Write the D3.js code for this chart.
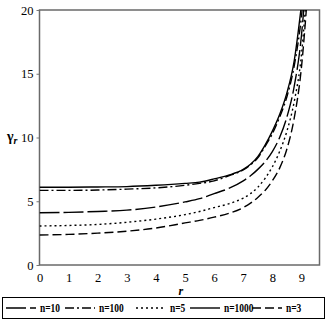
<!DOCTYPE html>
<html>
<head>
<meta charset="utf-8">
<script src="https://cdn.jsdelivr.net/npm/d3@7"></script>
<style>
  body { margin: 0; background: #fff; }
</style>
</head>
<body>
<div id="chart"></div>
<script>
// values
var xTicks = [0, 1, 2, 3, 4, 5, 6, 7, 8, 9];
var yTicks = [0, 5, 10, 15, 20];

var rN1000 = [0, 1, 2, 3, 4, 5, 5.5, 6, 6.5, 7, 7.25, 7.5, 7.75, 8, 8.25, 8.5, 8.75, 9];
var gN1000 = [6.1, 6.1, 6.12, 6.15, 6.25, 6.4, 6.5, 6.75, 7.05, 7.5, 7.9, 8.5, 9.4, 10.5, 11.8, 13.5, 16.0, 20.4];

var rN100 = [0, 1, 2, 3, 4, 5, 5.5, 6, 6.5, 7, 7.25, 7.5, 7.75, 8, 8.25, 8.5, 8.75, 9, 9.05];
var gN100 = [5.85, 5.85, 5.88, 5.95, 6.05, 6.25, 6.4, 6.6, 7.0, 7.45, 7.85, 8.4, 9.3, 10.3, 11.6, 13.2, 15.6, 19.5, 20.6];

var rN10 = [0, 1, 2, 3, 4, 5, 5.5, 6, 6.5, 7, 7.25, 7.5, 7.75, 8, 8.25, 8.5, 8.75, 9, 9.1];
var gN10 = [4.1, 4.13, 4.2, 4.3, 4.55, 4.95, 5.2, 5.6, 6.0, 6.6, 7.0, 7.5, 8.1, 8.9, 10.0, 11.6, 14.0, 18.0, 20.6];

var rN5 = [0, 1, 2, 3, 4, 5, 5.5, 6, 6.5, 7, 7.25, 7.5, 7.75, 8, 8.25, 8.5, 8.75, 9, 9.15];
var gN5 = [3.06, 3.1, 3.18, 3.35, 3.6, 3.95, 4.2, 4.5, 4.8, 5.25, 5.6, 6.1, 6.8, 7.7, 8.9, 10.5, 12.8, 16.5, 20.6];

var rN3 = [0, 1, 2, 3, 4, 5, 5.5, 6, 6.5, 7, 7.25, 7.5, 7.75, 8, 8.25, 8.5, 8.75, 9, 9.2];
var gN3 = [2.35, 2.4, 2.5, 2.65, 2.9, 3.3, 3.5, 3.75, 4.05, 4.5, 4.85, 5.3, 5.85, 6.6, 7.6, 9.1, 11.5, 15.5, 21];

var series = [
  {name: "n=10",   r: rN10,   g: gN10,   dash: "20,4"},
  {name: "n=100",  r: rN100,  g: gN100,  dash: "9,3,2,3"},
  {name: "n=5",    r: rN5,    g: gN5,    dash: "2,3"},
  {name: "n=1000", r: rN1000, g: gN1000, dash: null},
  {name: "n=3",    r: rN3,    g: gN3,    dash: "9,4"}
];

var serif = "'Liberation Serif', 'Times New Roman', serif";
var width = 327, height = 325;
var margin = {top: 10, right: 7.5, bottom: 60, left: 39.5};

var svg = d3.select("#chart").append("svg")
  .attr("width", width)
  .attr("height", height)
  .attr("font-family", serif);

var x = d3.scaleLinear().domain([0, 9.62]).range([margin.left, width - margin.right]);
var y = d3.scaleLinear().domain([0, 20]).range([height - margin.bottom, margin.top]);

svg.append("clipPath").attr("id", "plotclip")
  .append("rect")
  .attr("x", x(0)).attr("y", y(20))
  .attr("width", x(9.62) - x(0)).attr("height", y(0) - y(20));

// axes
var yAxis = svg.append("g")
  .attr("transform", "translate(" + x(0) + ",0)")
  .call(d3.axisLeft(y).tickValues(yTicks).tickSize(3).tickPadding(3));
var xAxis = svg.append("g")
  .attr("transform", "translate(0," + y(0) + ")")
  .call(d3.axisBottom(x).tickValues(xTicks).tickSize(0).tickPadding(8));

[xAxis, yAxis].forEach(function(a) {
  a.attr("font-family", serif).attr("font-size", 12.5);
  a.select(".domain").remove();
  a.selectAll("line").attr("stroke", "#777");
  a.selectAll("text").style("font-family", serif).attr("fill", "#000");
});

// frame
svg.append("rect")
  .attr("x", x(0)).attr("y", y(20))
  .attr("width", x(9.62) - x(0)).attr("height", y(0) - y(20))
  .attr("fill", "none")
  .attr("stroke", "#6a6a6a")
  .attr("stroke-width", 1.5);

var line = d3.line()
  .x(function(d) { return x(d[0]); })
  .y(function(d) { return y(d[1]); })
  .curve(d3.curveMonotoneX);

svg.append("g").attr("clip-path", "url(#plotclip)")
  .selectAll("path")
  .data(series)
  .enter()
  .append("path")
  .attr("d", function(s) { return line(d3.zip(s.r, s.g)); })
  .attr("fill", "none")
  .attr("stroke", "#000")
  .attr("stroke-width", 1.4)
  .attr("stroke-dasharray", function(s) { return s.dash; });

// axis titles
var yLab = svg.append("text")
  .attr("x", 7).attr("y", y(10) + 3)
  .style("font-family", serif)
  .style("font-size", "14px").style("font-weight", "bold");
yLab.append("tspan").text("γ");
yLab.append("tspan").attr("dy", 3).style("font-size", "10px").style("font-style", "italic").text("r");

svg.append("text")
  .attr("x", 178.5).attr("y", 295)
  .style("font-family", serif)
  .style("font-size", "12px").style("font-weight", "bold").style("font-style", "italic")
  .text("r");

// legend
var legend = svg.append("g");
legend.append("rect")
  .attr("x", 2.5).attr("y", 297.5)
  .attr("width", 322).attr("height", 21)
  .attr("fill", "none").attr("stroke", "#000").attr("stroke-width", 1);

var legX = [6, 65, 136, 190, 252];
var item = legend.selectAll(".leg")
  .data(series)
  .enter()
  .append("g")
  .attr("class", "leg")
  .attr("transform", function(d, i) { return "translate(" + legX[i] + ",308)"; });

item.append("line")
  .attr("x1", 0).attr("x2", 30)
  .attr("stroke", "#000").attr("stroke-width", 1.4)
  .attr("stroke-dasharray", function(s) { return s.dash; });

item.append("text")
  .attr("x", 34).attr("dy", "0.35em")
  .style("font-family", serif)
  .style("font-size", "11.5px").style("font-weight", "bold")
  .text(function(s) { return s.name; })
  .each(function() {
    // the legend labels in the picture are set narrow
    var w = this.getComputedTextLength();
    d3.select(this).attr("textLength", w * 0.82).attr("lengthAdjust", "spacingAndGlyphs");
  });
</script>
</body>
</html>
